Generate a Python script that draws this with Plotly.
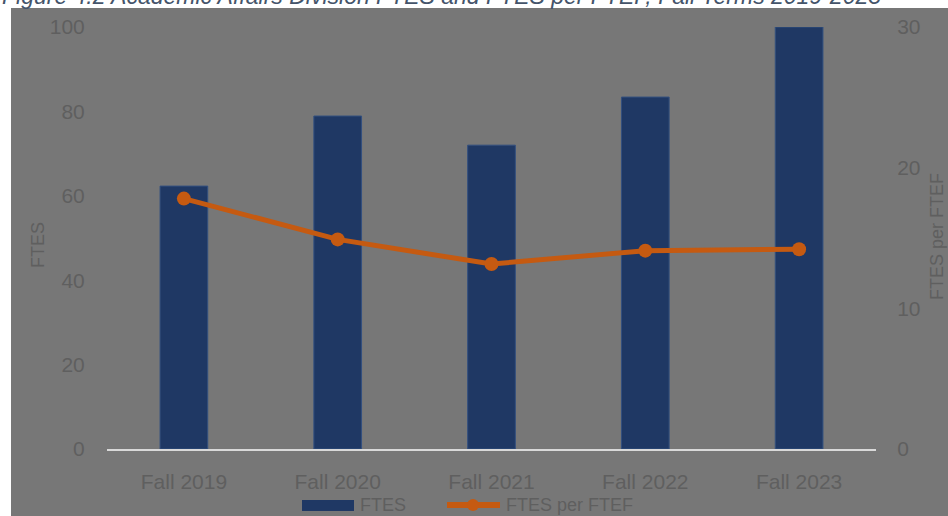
import plotly.graph_objects as go

categories = ["Fall 2019", "Fall 2020", "Fall 2021", "Fall 2022", "Fall 2023"]
ftes = [62.3, 78.9, 72.0, 83.4, 100.0]
ftes_per_ftef = [17.8, 14.9, 13.15, 14.1, 14.2]
left_ticks = [0, 20, 40, 60, 80, 100]
right_ticks = [0, 10, 20, 30]
title_text = "Figure 4.2 Academic Affairs Division FTES and FTES per FTEF, Fall Terms 2019-2023"

W, H = 948, 516
L, R, T, B = 107, 72, 27, 67
pw, ph = W - L - R, H - T - B

def px(x):
    return (x - L) / pw

def py(y):
    return (H - B - y) / ph

BG = "#777777"
TXT = "#5f5f5f"
NAVY = "#1f3864"
ORANGE = "#c55a11"
FONT = "Liberation Sans, Arial, sans-serif"

fig = go.Figure()
fig.add_trace(go.Bar(
    x=categories, y=ftes, name="FTES", width=0.31,
    marker=dict(color=NAVY, line=dict(color="#33507f", width=1)),
    yaxis="y", showlegend=False,
))
fig.add_trace(go.Scatter(
    x=categories, y=ftes_per_ftef, name="FTES per FTEF", mode="lines+markers",
    line=dict(color=ORANGE, width=5), marker=dict(color=ORANGE, size=14),
    yaxis="y2", showlegend=False,
))

shapes = [
    dict(type="rect", xref="paper", yref="paper", x0=px(11), x1=px(W + 2), y0=py(8), y1=py(H + 2),
         fillcolor=BG, line=dict(width=0), layer="below"),
    # legend swatches
    dict(type="rect", xref="paper", yref="paper", x0=px(302), x1=px(354), y0=py(511), y1=py(500),
         fillcolor=NAVY, line=dict(width=0), layer="above"),
    dict(type="line", xref="paper", yref="paper", x0=px(447), x1=px(500), y0=py(505), y1=py(505),
         line=dict(color=ORANGE, width=6), layer="above"),
    dict(type="circle", xref="paper", yref="paper", x0=px(467), x1=px(479), y0=py(511), y1=py(499),
         fillcolor=ORANGE, line=dict(width=0), layer="above"),
]

annotations = [
    dict(text="<i>" + title_text + "</i>", xref="paper", yref="paper", x=px(0), y=py(-4),
         xanchor="left", yanchor="middle",
         showarrow=False, font=dict(family=FONT, size=23, color="#44546a")),
    dict(text="FTES", xref="paper", yref="paper", x=px(38), y=py(245), textangle=-90,
         xanchor="center", yanchor="middle", showarrow=False, font=dict(family=FONT, size=18, color=TXT)),
    dict(text="FTES per FTEF", xref="paper", yref="paper", x=px(937), y=py(237), textangle=-90,
         xanchor="center", yanchor="middle", showarrow=False, font=dict(family=FONT, size=18, color=TXT)),
    dict(text="FTES", xref="paper", yref="paper", x=px(358), y=py(505), xanchor="left", yanchor="middle",
         showarrow=False, font=dict(family=FONT, size=18, color=TXT)),
    dict(text="FTES per FTEF", xref="paper", yref="paper", x=px(504), y=py(505), xanchor="left", yanchor="middle",
         showarrow=False, font=dict(family=FONT, size=18, color=TXT)),
]

TICKFONT = dict(family=FONT, size=21, color=TXT)

fig.update_layout(
    width=W, height=H,
    margin=dict(l=L, r=R, t=T, b=B, pad=0),
    paper_bgcolor="white", plot_bgcolor="rgba(0,0,0,0)",
    font=dict(family=FONT, size=19, color=TXT),
    showlegend=False,
    shapes=shapes, annotations=annotations,
    xaxis=dict(
        type="category", showgrid=False, zeroline=False,
        showline=True, linecolor="#d9d9d9", linewidth=2,
        ticks="outside", ticklen=13, tickcolor="rgba(0,0,0,0)",
        tickfont=TICKFONT,
    ),
    yaxis=dict(
        range=[0, 100], tickvals=left_ticks, showgrid=False, zeroline=False, showline=False,
        ticks="outside", ticklen=17, tickcolor="rgba(0,0,0,0)",
        tickfont=TICKFONT,
    ),
    yaxis2=dict(
        range=[0, 30], tickvals=right_ticks, overlaying="y", side="right",
        showgrid=False, zeroline=False, showline=False,
        ticks="outside", ticklen=16, tickcolor="rgba(0,0,0,0)",
        tickfont=TICKFONT,
    ),
)

fig.write_html(
    "out.html",
    config={"displayModeBar": False},
    post_script="document.body.style.margin='0';document.body.style.overflow='hidden';",
)
